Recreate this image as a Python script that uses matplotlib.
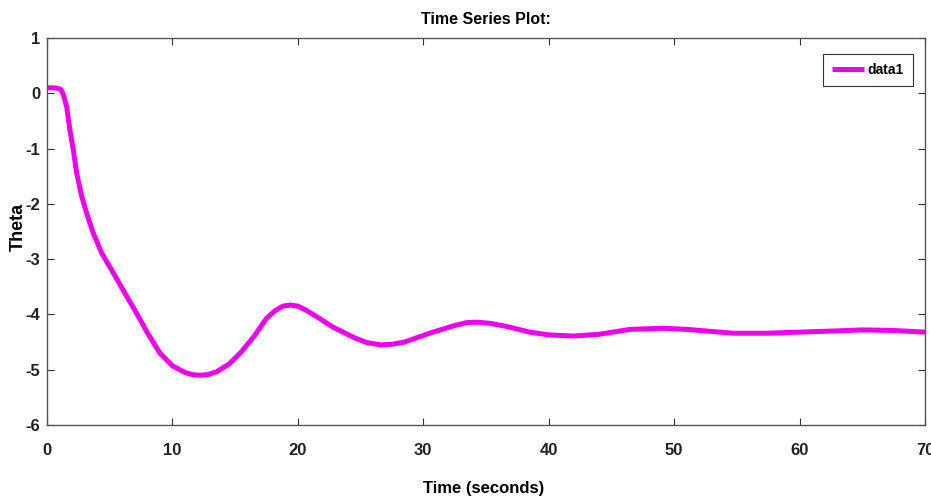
import matplotlib
matplotlib.use('Agg')
import matplotlib.pyplot as plt

# values
t = [0, 0.5, 0.9, 1.1, 1.3, 1.57, 1.83, 2.1, 2.37, 2.77, 3.16, 3.69, 4.36,
     5.29, 6.22, 7.15, 8.0, 9.0, 10.0, 11.0, 11.6, 12.2, 12.8, 13.5, 14.5,
     15.4, 16.5, 17.5, 18.2, 18.8, 19.4, 20.0, 20.7, 21.5, 22.8, 24.5, 25.5,
     26.6, 27.5, 28.5, 29.5, 30.5, 32.5, 33.4, 34.3, 35.3, 36.5, 38.5, 40.0,
     42.0, 44.0, 46.5, 49.1, 51.0, 54.7, 57.4, 60.0, 62.7, 65.0, 67.5, 70.0]
theta = [0.1, 0.1, 0.09, 0.07, -0.02, -0.25, -0.67, -1.03, -1.45, -1.87, -2.17,
         -2.53, -2.89, -3.25, -3.62, -3.98, -4.33, -4.70, -4.93, -5.05, -5.09,
         -5.10, -5.09, -5.04, -4.90, -4.70, -4.40, -4.07, -3.93, -3.85, -3.83,
         -3.85, -3.93, -4.04, -4.23, -4.42, -4.51, -4.55, -4.54, -4.50, -4.42,
         -4.34, -4.20, -4.15, -4.14, -4.16, -4.21, -4.32, -4.37, -4.39, -4.36,
         -4.27, -4.25, -4.27, -4.34, -4.34, -4.32, -4.30, -4.28, -4.29, -4.32]
xticks = [0, 10, 20, 30, 40, 50, 60, 70]
yticks = [1, 0, -1, -2, -3, -4, -5, -6]

plt.rcParams['font.family'] = ['Liberation Sans Narrow', 'Liberation Sans', 'DejaVu Sans']

fig = plt.figure(figsize=(9.31, 4.99), dpi=100)
ax = fig.add_axes([0.0505, 0.1483, 0.943, 0.7755])

ax.plot(t, theta, color='#ee00ee', lw=3.6, solid_capstyle='butt',
        solid_joinstyle='round', label='data1')

ax.set_xlim(0, 70)
ax.set_ylim(-6, 1)
ax.set_xticks(xticks)
ax.set_yticks(yticks)
ax.set_xticklabels([str(v) for v in xticks], fontsize=12, fontweight='bold', color='#222222')
ax.set_yticklabels([str(v) for v in yticks], fontsize=12, fontweight='bold', color='#222222')
ax.tick_params(axis='both', direction='in', length=5, width=0.8, top=True, right=True, color='#333333')
ax.tick_params(axis='x', pad=13)
ax.tick_params(axis='y', pad=5)
for s in ax.spines.values():
    s.set_color('#555555')
    s.set_linewidth(1.0)

ax.text(0.5, 1.047, 'Time Series Plot:', transform=ax.transAxes, ha='center', va='center',
        fontsize=11.5, fontweight='bold')
ax.set_xlabel('Time (seconds)', fontsize=12, fontweight='bold')
ax.xaxis.set_label_coords(0.497, -0.163)
ax.xaxis.label.set_va('center')
ax.set_ylabel('Theta', fontsize=13, fontweight='bold', family=['Liberation Sans', 'DejaVu Sans'])
ax.yaxis.set_label_coords(-0.033, 0.513)
ax.yaxis.label.set_va('center')

leg = ax.legend(loc='upper right', bbox_to_anchor=(0.9863, 0.9587), borderaxespad=0,
                prop={'weight': 'bold', 'size': 10},
                handlelength=2.3, handletextpad=0.25, borderpad=0.65,
                fancybox=False, framealpha=1)
leg.get_frame().set_edgecolor('#333333')
leg.get_frame().set_linewidth(0.8)

fig.savefig('out.png', dpi=100)
